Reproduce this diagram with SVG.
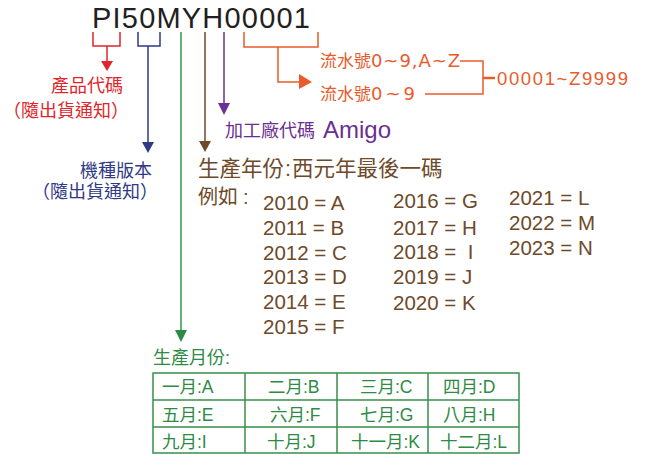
<svg xmlns="http://www.w3.org/2000/svg" width="657" height="454" viewBox="0 0 657 454">
<defs>
<style>
.t{font-family:"Liberation Sans","Noto Sans CJK TC",sans-serif}
.ln{fill:none;stroke-width:1.5}
.red{fill:#e0252b}.blue{fill:#2f3a86}.grn{fill:#2e8b45}.brn{fill:#6e4a2a}.pur{fill:#6b2f92}.org{fill:#e95b2c}
.sred{stroke:#e0252b}.sblue{stroke:#2f3a86}.sgrn{stroke:#2e9a48}.sbrn{stroke:#6e4a2a}.spur{stroke:#6b2f92}.sorg{stroke:#e95b2c}
.yr{font-size:20.5px;fill:#6e4a2a}
.cell{font-size:17.5px;fill:#2e8b45}
.wide{font-family:"DejaVu Sans",sans-serif;font-size:18px}
</style>
</defs>
<rect width="657" height="454" fill="#fff"/>
<g id="code">
<text class="t" x="92" y="28" font-size="29" fill="#231f20" textLength="218" lengthAdjust="spacing">PI50MYH00001</text>
</g>
<g id="connectors">
<path class="ln sred" d="M93,32V46H120V32M107,46V62"/>
<path class="red" d="M101,61H113L107,71Z"/>
<path class="ln sblue" d="M138,32V46H160V32M148,46V143"/>
<path class="blue" d="M142,142H154L148,153Z"/>
<path class="ln sgrn" d="M181,32V332"/>
<path class="grn" d="M175,330H187L181,342Z"/>
<path class="ln sbrn" d="M205,32V142"/>
<path class="brn" d="M199,141H211L205,152Z"/>
<path class="ln spur" d="M224,32V104"/>
<path class="pur" d="M218,103H230L224,115Z"/>
<path class="ln sorg" d="M244,32V47H318V32M278,47V82H300"/>
<path class="org" d="M299,74L312,82L299,89Z"/>
<path class="ln sorg" d="M460,61H483V94H425"/>
<path d="M483,78H495" stroke="#e95b2c" stroke-width="2.5"/>
</g>
<g id="product">
<text class="t red" x="123" y="92" font-size="18" text-anchor="end">產品代碼</text>
<text class="t red" x="129" y="117" font-size="18" text-anchor="end">（隨出貨通知）</text>
</g>
<g id="version">
<text class="t blue" x="152" y="177" font-size="18" text-anchor="end">機種版本</text>
<text class="t blue" x="158" y="198" font-size="18" text-anchor="end">（隨出貨通知）</text>
</g>
<g id="factory">
<text class="t pur" x="225" y="137" font-size="18">加工廠代碼<tspan x="323" y="138" font-size="24">Amigo</tspan></text>
</g>
<g id="serial">
<text class="t org" x="320" y="67" font-size="17">流水號<tspan class="wide" x="371" textLength="89" lengthAdjust="spacing">0~9,A~Z</tspan></text>
<text class="t org" x="320" y="100" font-size="17">流水號<tspan class="wide" x="371" textLength="44" lengthAdjust="spacing">0~9</tspan></text>
<text class="t org" x="497" y="85" font-size="18.5" textLength="131" lengthAdjust="spacing">00001~Z9999</text>
</g>
<g id="year">
<text class="t brn" x="198" y="176" font-size="21.5">生產年份<tspan dx="1">:</tspan><tspan dx="1">西元年最後一碼</tspan></text>
<text class="t brn" x="198" y="204" font-size="20">例如<tspan dx="5">:</tspan></text>
<text class="t yr" x="263" y="210">2010 = A</text>
<text class="t yr" x="263" y="235">2011 = B</text>
<text class="t yr" x="263" y="260">2012 = C</text>
<text class="t yr" x="263" y="284">2013 = D</text>
<text class="t yr" x="263" y="309">2014 = E</text>
<text class="t yr" x="263" y="334">2015 = F</text>
<text class="t yr" x="393" y="208">2016 = G</text>
<text class="t yr" x="393" y="235">2017 = H</text>
<text class="t yr" x="393" y="259" xml:space="preserve">2018 =  I</text>
<text class="t yr" x="393" y="284">2019 = J</text>
<text class="t yr" x="393" y="310">2020 = K</text>
<text class="t yr" x="509" y="205">2021 = L</text>
<text class="t yr" x="509" y="230">2022 = M</text>
<text class="t yr" x="509" y="255">2023 = N</text>
</g>
<g id="month">
<text class="t grn" x="153" y="364" font-size="18">生產月份:</text>
<g fill="none" stroke="#3a8f4a" stroke-width="1.5">
<rect x="153" y="373" width="366" height="80"/>
<path d="M153,400H519M153,427H519M245,373V453M337,373V453M428,373V453"/>
</g>
<text class="t cell" x="162" y="393">一月:A</text>
<text class="t cell" x="268" y="393">二月:B</text>
<text class="t cell" x="360" y="393">三月:C</text>
<text class="t cell" x="443" y="393">四月:D</text>
<text class="t cell" x="162" y="421">五月:E</text>
<text class="t cell" x="270" y="421">六月:F</text>
<text class="t cell" x="360" y="421">七月:G</text>
<text class="t cell" x="443" y="421">八月:H</text>
<text class="t cell" x="162" y="448">九月:I</text>
<text class="t cell" x="267" y="448">十月:J</text>
<text class="t cell" x="351" y="448">十一月:K</text>
<text class="t cell" x="440" y="448">十二月:L</text>
</g>
</svg>
